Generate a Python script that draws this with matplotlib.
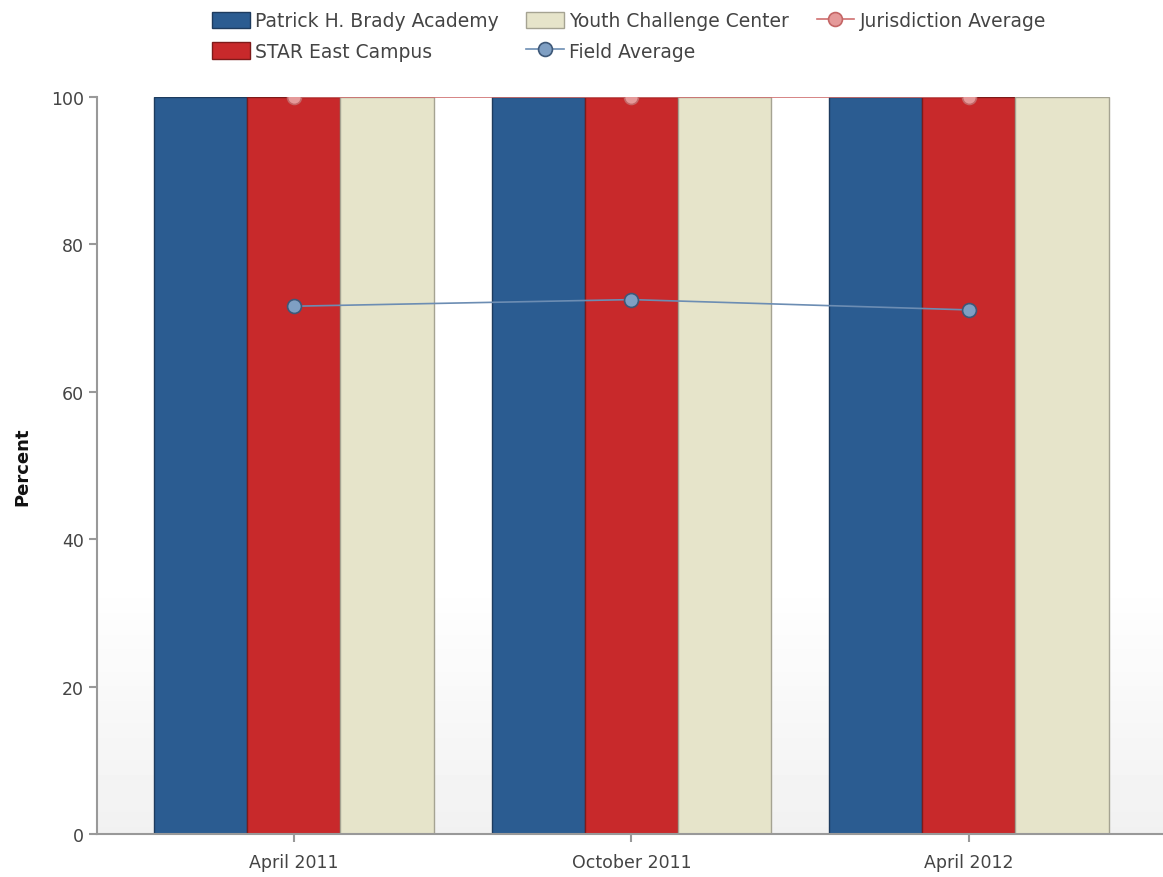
import numpy as np
import matplotlib
matplotlib.use('Agg')
import matplotlib.pyplot as plt

# --- data ---
periods = ['April 2011', 'October 2011', 'April 2012']
brady = [100, 100, 100]
star = [100, 100, 100]
youth = [100, 100, 100]
jurisdiction_avg = [100, 100, 100]
field_avg = [71.6, 72.5, 71.1]

# --- styles ---
bar_series = [
    ('Patrick H. Brady Academy', brady, '#2b5c91', '#1d3b5e'),
    ('STAR East Campus', star, '#c8292b', '#7e1a1a'),
    ('Youth Challenge Center', youth, '#e6e4ca', '#a5a392'),
]
grey = '#999999'
txt = '#444444'

fig = plt.figure(figsize=(11.63, 8.78), dpi=100)
ax = fig.add_axes([0.0834, 0.049, 0.9166, 0.8395])

x = np.arange(len(periods))
w = 0.276

# background gradient (white -> light grey near the bottom)
grad = np.concatenate([np.ones(65), np.linspace(1.0, 0.945, 35)])[:, None]
ax.imshow(grad, cmap='gray', vmin=0, vmax=1, aspect='auto',
          extent=[-0.583, 2.575, 0, 100], zorder=0, origin='upper')

handles = []
for i, (name, vals, fc, ec) in enumerate(bar_series):
    b = ax.bar(x + (i - 1) * w, vals, w, color=fc, edgecolor=ec,
               linewidth=1.0, label=name, zorder=2)
    handles.append(b)

jl, = ax.plot(x, jurisdiction_avg, color='#d07070', lw=1.2, marker='o',
              ms=10, mfc='#e59a9a', mec='#c46666', mew=1.2, zorder=3,
              label='Jurisdiction Average', clip_on=True)
fl, = ax.plot(x, field_avg, color='#6c8db3', lw=1.2, marker='o',
              ms=10, mfc='#7f9fc3', mec='#3e5878', mew=1.2, zorder=3,
              label='Field Average')

ax.set_xlim(-0.583, 2.575)
ax.set_ylim(0, 100)
ax.set_yticks([0, 20, 40, 60, 80, 100])
ax.set_xticks(x)
ax.set_xticklabels(periods)

for s in ['top', 'right']:
    ax.spines[s].set_visible(False)
for s in ['left', 'bottom']:
    ax.spines[s].set_color(grey)
    ax.spines[s].set_linewidth(1.5)
ax.tick_params(axis='both', colors=grey, labelcolor=txt, labelsize=12.5,
               length=6, width=1.5)
ax.tick_params(axis='x', pad=8)

ax.set_ylabel('Percent', fontsize=13, fontweight='bold', color='#111111',
              labelpad=14)

leg = fig.legend([handles[0], handles[1], handles[2], fl, jl],
                 ['Patrick H. Brady Academy', 'STAR East Campus',
                  'Youth Challenge Center', 'Field Average',
                  'Jurisdiction Average'],
                 loc='upper left', bbox_to_anchor=(0.168, 1.005), ncol=3,
                 frameon=False, fontsize=13.5, handlelength=2.0,
                 handleheight=1.0, columnspacing=1.45, labelspacing=0.6,
                 handletextpad=0.3)
for t in leg.get_texts():
    t.set_color(txt)

fig.savefig('out.png', dpi=100)
